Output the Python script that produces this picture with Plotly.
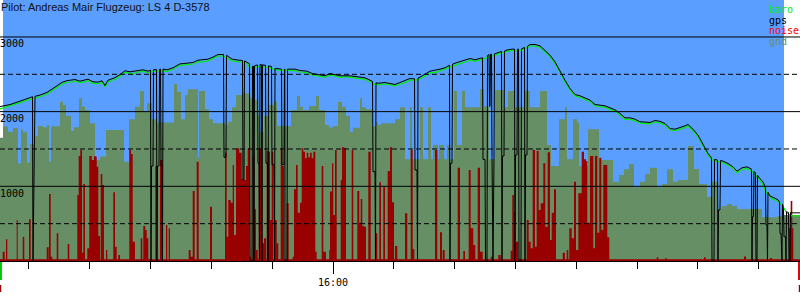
import numpy as np
import plotly.graph_objects as go

# ---------------- time base (logger fixes) ----------------
FIX_SECONDS = 9.868      # seconds per logger fix
FIRST_FIX_SEC = 314      # fix 0 = 15:05:14  (seconds after 15:00)
LAST_FIX = 800


def to_min(fix):
    """fix number -> minutes after 15:00"""
    return (FIRST_FIX_SEC + np.asarray(fix, dtype=float) * FIX_SECONDS) / 60.0


# ---------------- data ----------------
TITLE = "Pilot: Andreas Mair Flugzeug: LS 4 D-3578"

BARO_FIX = [0, 10, 20, 25, 30, 35, 40, 47, 53, 58, 62, 67, 72, 75, 80, 85, 88, 93, 98, 102,
            105, 108, 115, 120, 125, 130, 133, 138, 143, 148, 153, 160, 167, 173, 180, 187,
            193, 198, 203, 208, 213, 218, 223, 227, 232, 237, 242, 247, 250, 255, 260, 265,
            270, 275, 280, 285, 290, 295, 300, 307, 312, 317, 320, 325, 330, 335, 340, 345,
            350, 355, 360, 365, 370, 375, 380, 385, 390, 395, 400, 405, 410, 415, 420, 425,
            430, 435, 440, 445, 450, 455, 460, 465, 470, 475, 480, 485, 490, 495, 500, 505,
            510, 515, 520, 525, 530, 535, 540, 545, 550, 555, 560, 565, 570, 575, 580, 585,
            590, 595, 600, 605, 610, 615, 620, 625, 630, 635, 640, 645, 650, 655, 660, 665,
            670, 675, 680, 685, 688, 693, 698, 703, 708, 713, 718, 723, 728, 733, 737, 742,
            747, 752, 757, 762, 767, 772, 777, 782, 787, 792, 797, 800]
BARO_ALT = [2036, 2076, 2120, 2147, 2165, 2183, 2200, 2236, 2290, 2335, 2370, 2393, 2397, 2410,
            2388, 2401, 2415, 2379, 2375, 2393, 2335, 2401, 2433, 2477, 2527, 2513, 2504, 2531,
            2540, 2522, 2540, 2549, 2540, 2567, 2620, 2629, 2638, 2669, 2665, 2683, 2710, 2745,
            2745, 2719, 2683, 2669, 2665, 2647, 2585, 2589, 2611, 2594, 2589, 2558, 2558, 2549,
            2558, 2549, 2531, 2522, 2491, 2477, 2477, 2460, 2491, 2477, 2460, 2468, 2460, 2455,
            2437, 2433, 2401, 2366, 2361, 2370, 2361, 2344, 2370, 2388, 2424, 2415, 2442, 2486,
            2522, 2522, 2549, 2567, 2602, 2629, 2647, 2665, 2692, 2674, 2692, 2714, 2745, 2754,
            2781, 2799, 2817, 2817, 2817, 2844, 2879, 2879, 2861, 2803, 2736, 2647, 2513, 2401,
            2290, 2210, 2192, 2165, 2134, 2076, 2067, 2058, 2031, 2004, 1955, 1897, 1897, 1879,
            1845, 1835, 1835, 1861, 1850, 1821, 1754, 1745, 1763, 1790, 1808, 1745, 1665, 1540,
            1420, 1344, 1331, 1317, 1286, 1241, 1183, 1228, 1241, 1196, 1129, 1040, 906, 835,
            808, 750, 638, 603, 603, 603]

# GPS altitude: regular track fixes
GPS_TRACK = [(0, 2067), (10, 2095), (20, 2140), (30, 2185), (40, 2222), (47, 2258), (53, 2310),
             (58, 2355), (62, 2392), (67, 2415), (75, 2430), (80, 2408), (88, 2435), (93, 2400),
             (98, 2395), (102, 2413), (105, 2350), (108, 2420), (115, 2455), (120, 2497),
             (125, 2547), (130, 2533), (138, 2551), (143, 2560), (148, 2542), (155, 2562),
             (164, 2569), (167, 2560), (173, 2587), (180, 2640), (187, 2649), (193, 2658),
             (198, 2689), (208, 2703), (213, 2730), (218, 2765), (222, 2765), (228, 2739),
             (232, 2703), (238, 2690), (246, 2667), (256, 2620), (265, 2618), (270, 2609),
             (278, 2575), (290, 2569), (295, 2569), (300, 2551), (307, 2542), (312, 2511),
             (320, 2497), (325, 2480), (330, 2511), (340, 2480), (350, 2480), (360, 2457),
             (365, 2453), (370, 2421), (378, 2380), (385, 2390), (395, 2364), (400, 2390),
             (405, 2408), (410, 2444), (413, 2440), (420, 2462), (425, 2506), (430, 2542),
             (440, 2569), (445, 2587), (448, 2610), (455, 2649), (460, 2667), (465, 2685),
             (470, 2712), (475, 2694), (480, 2712), (497, 2785), (500, 2801), (507, 2825),
             (510, 2837), (512, 2837), (523, 2850), (530, 2899), (535, 2899), (540, 2881),
             (545, 2823), (550, 2756), (555, 2667), (560, 2533), (565, 2421), (570, 2310),
             (575, 2230), (580, 2212), (585, 2185), (590, 2154), (595, 2096), (600, 2087),
             (605, 2078), (610, 2051), (615, 2024), (620, 1975), (625, 1917), (630, 1917),
             (635, 1899), (640, 1865), (650, 1855), (655, 1881), (660, 1870), (665, 1841),
             (670, 1774), (675, 1765), (680, 1783), (685, 1810), (688, 1828), (693, 1765),
             (698, 1685), (703, 1560), (708, 1440), (723, 1337), (728, 1306), (733, 1261),
             (737, 1203), (742, 1248), (747, 1261), (760, 1100), (763, 1060), (770, 870),
             (775, 840), (778, 820), (792, 645), (800, 645)]

# GPS altitude: fixes around signal dropouts
GPS_DROPS = [(32.5, 2200), (33, 0), (34, 1085), (35, 2205),
             (150.5, 2555), (151, 0), (151.5, 1272), (153, 1272), (153.5, 2560),
             (156.5, 2562), (157, 0), (157.5, 1272), (159, 1272), (159.5, 2566),
             (160.5, 2569), (161, 1272), (162, 1272), (162.5, 0), (163, 2570),
             (223.5, 2765), (224, 1388), (226, 1388), (226.5, 2755),
             (242.5, 2685), (243, 1085), (244, 1085), (244.5, 2680),
             (249.5, 2640), (250, 0), (252, 0), (252.5, 2608),
             (253.5, 2610), (254, 0), (254.5, 2612),
             (257.5, 2625), (258, 1308), (259, 1308), (259.5, 0), (260, 2631),
             (261.5, 2628), (262, 0), (262.5, 2627),
             (265.5, 2620), (266, 1308), (267.5, 1308), (268, 0), (268.5, 2612),
             (271.5, 2605), (272, 1290), (274, 1290), (274.5, 0), (275, 2578),
             (281.5, 2569), (282, 1290), (284, 1290), (284.5, 2569),
             (284.8, 2569), (285, 0), (287, 0), (287.5, 2569),
             (372.5, 2404), (373, 1196), (375, 1196), (375.5, 0), (376, 2386),
             (414.5, 2440), (415, 1219), (417, 1219), (417.5, 0), (418, 2450),
             (449.5, 2620), (450, 0), (450.5, 1308), (452, 1308), (452.5, 2635),
             (482.5, 2722), (483, 1361), (485, 1361), (485.5, 0), (487, 0), (487.5, 2750),
             (489, 2765), (489.5, 2070), (490, 2070), (490.5, 2768), (491.5, 2770), (492, 1384),
             (493, 0), (494, 1384), (494.5, 2774),
             (501.5, 2805), (502, 0), (502.5, 1406), (504, 1406), (504.5, 2812),
             (514.5, 2837), (515, 0), (515.5, 1420), (517, 1420), (517.5, 2837),
             (518.5, 2837), (519, 0), (521, 0), (521.5, 2840),
             (524.5, 2860), (525, 0), (525.5, 1420), (527, 1420), (527.5, 2875),
             (711.5, 1380), (712, 0), (714, 0), (714.5, 1360), (717.5, 1352), (718, 0),
             (718.5, 683), (720, 683), (720.5, 1345),
             (751.5, 1230), (752, 0), (752.5, 594), (753.5, 594), (754, 1200), (755.5, 1180),
             (756, 0), (757, 0), (757.5, 1150),
             (765.5, 980), (766, 482), (767, 482), (767.5, 0), (768, 920),
             (779.5, 790), (780, 370), (781, 370), (782, 0), (782.5, 760), (783.5, 700),
             (784, 326), (785.5, 326), (786, 0), (786.5, 660), (788.5, 650), (789, 0), (790, 0),
             (790.5, 650)]

# ground elevation: (fix where a new value starts, elevation)
GND_STEPS = [(0, 1650), (3, 1800), (8, 1730), (13, 1780), (18, 1310), (21, 1760), (23, 1725),
             (27, 1320), (30, 1567), (34, 1670), (38, 1808), (43, 1790), (47, 1821), (49, 1330),
             (51, 1805), (60, 2134), (63, 2089), (66, 1942), (71, 1741), (74, 1790), (79, 2178),
             (82, 2067), (85, 2022), (90, 1844), (95, 1353), (100, 1400), (106, 1754),
             (124, 1330), (129, 1897), (135, 2067), (140, 2277), (144, 2000), (147, 2111),
             (152, 1897), (157, 1853), (174, 2370), (177, 2268), (181, 1897), (185, 2223),
             (188, 2299), (198, 1375), (199, 2277), (205, 2031), (209, 1897), (213, 1844),
             (225, 1821), (228, 1866), (232, 2058), (236, 2223), (242, 2370), (243, 2245),
             (249, 2178), (253, 2160), (257, 1960), (260, 1732), (264, 1942), (269, 2089),
             (274, 2134), (277, 1808), (291, 2022), (297, 2210), (300, 2067), (303, 2022),
             (309, 2076), (316, 2210), (319, 2022), (325, 1821), (329, 1786), (333, 1808),
             (338, 2134), (342, 2067), (346, 1942), (350, 1732), (353, 1785), (360, 2178),
             (362, 2058), (366, 2031), (372, 1808), (376, 1866), (378, 1821), (381, 1844),
             (395, 1897), (400, 2058), (405, 1361), (410, 2058), (412, 1361), (420, 2058),
             (423, 1361), (428, 2058), (431, 1361), (433, 1553), (438, 1361), (439, 1553),
             (444, 1361), (447, 1553), (450, 1361), (454, 2277), (457, 1553), (462, 2277),
             (465, 2058), (480, 2299), (484, 2070), (489, 1361), (495, 2290), (504, 2058),
             (508, 2277), (515, 2058), (524, 2277), (530, 2058), (540, 2277), (547, 1553),
             (551, 1272), (559, 1897), (565, 2058), (567, 1361), (573, 1897), (577, 1853),
             (579, 1272), (588, 1763), (599, 1353), (613, 1062), (619, 1152), (624, 1228),
             (629, 1299), (634, 987), (640, 1062), (645, 1165), (650, 1250), (657, 987),
             (662, 1031), (667, 1228), (673, 1062), (678, 1085), (688, 1540), (694, 1232),
             (699, 1031), (707, 862), (712, 1062), (717, 696), (722, 736), (727, 763),
             (732, 736), (737, 696), (762, 585), (778, 603), (784, 616)]

# vario noise: baseline and bursts (start fix, end fix, level)
NOISE_BASE = 22
NOISE_BURSTS = [
    (2.7, 4.7, 125), (6, 7.3, 290), (16.7, 17.7, 550), (22.7, 24.3, 326), (29, 30.7, 558),
    (46.7, 48.7, 183), (49, 50.7, 897), (50.7, 52.3, 58), (56.7, 58.3, 370), (67.7, 69.3, 228),
    (77.3, 78.7, 884), (78.7, 80.3, 1406), (80.3, 82, 1487), (82, 83.3, 112), (83.3, 85, 1031),
    (87.3, 89.3, 170), (89.3, 91.7, 1406), (91.7, 94, 1353), (94, 95.3, 1406), (95.3, 96.7, 1397),
    (96.7, 98.3, 1263), (98.3, 100, 335), (100.7, 102.3, 1165), (102.3, 104, 1018),
    (106, 107.3, 147), (113.3, 115, 920), (115, 116.7, 192), (118.3, 120, 80),
    (129.3, 131, 1487), (131, 132.7, 1433), (132.7, 135, 259), (140.7, 142.3, 304),
    (143.3, 145.3, 469), (145.3, 146.7, 415), (146.7, 148.3, 304), (155.3, 156.7, 1272),
    (160, 162.7, 1353), (166, 167.3, 482), (168.7, 170, 437), (188.7, 190.7, 147),
    (190.7, 192.7, 58), (192.7, 194.7, 937), (196.7, 198.7, 1330), (210, 212, 728),
    (225, 226.7, 1451), (226.7, 228.3, 326), (228.3, 230.7, 817), (230.7, 232.7, 781),
    (232.7, 234, 1286), (234, 236, 348), (236, 237.7, 1509), (237.7, 239.3, 1509),
    (239.3, 241.7, 1451), (241.7, 243.3, 1094), (243.3, 246, 1085), (246, 247.7, 1272),
    (247.7, 249.3, 1509), (249.3, 251, 58), (252.7, 254.3, 1397), (254.3, 256, 692),
    (256, 257.7, 147), (258.7, 260.7, 1509), (260.7, 262, 1487), (262, 264, 237),
    (264, 266, 304), (266.7, 268.3, 1478), (268.3, 270, 1464), (270, 271.7, 549),
    (271.7, 273.3, 1464), (275, 276.7, 549), (276.7, 278.3, 237), (280.7, 282.3, 1509),
    (282.3, 284, 1272), (286.7, 288.7, 772), (292.7, 294, 58), (294, 296, 960),
    (296, 297.7, 1286), (297.7, 300, 647), (300, 301.7, 781), (301.7, 303.3, 1509),
    (303.3, 305, 1464), (305, 306.7, 1375), (306.7, 308.3, 1451), (308.3, 310, 1388),
    (310, 311.7, 1451), (311.7, 313.3, 1375), (313.3, 315.3, 1464), (315.3, 316.7, 125),
    (321.7, 323.3, 1272), (323.3, 326, 125), (329.3, 330, 147), (330, 332, 929),
    (332, 333.3, 1308), (333.3, 335, 616), (335, 336.7, 1487), (340.7, 342, 1085),
    (342, 344.3, 1522), (344.3, 346, 1509), (351.7, 353.3, 1487), (357.3, 359.3, 937),
    (359.3, 360.7, 513), (360.7, 362.3, 830), (362.3, 364, 469), (364, 366, 460),
    (368.3, 370.7, 1464), (375.3, 377.3, 370), (379.3, 381, 1053), (383.3, 385, 995),
    (387.7, 390, 1205), (390, 392, 1522), (392, 394, 786), (395, 397.3, 201),
    (405, 407.3, 638), (410.7, 412.7, 1487), (412.7, 414.3, 156), (435, 437.3, 1487),
    (440, 442, 384), (442.7, 444.7, 147), (457.7, 460, 1250), (463.3, 465, 134),
    (468.7, 470.7, 1219), (470.7, 473.3, 437), (473.3, 475.3, 214), (477.7, 480, 1250),
    (480, 482.7, 125), (490.7, 492.3, 58), (498.3, 500.7, 80), (510.7, 512.3, 138),
    (512.3, 514, 884), (514, 515.3, 661), (516, 518.3, 259), (526.7, 528.7, 549),
    (528.7, 530.7, 259), (530.7, 532.7, 170), (532.7, 535, 1487), (535, 536.7, 192),
    (536.7, 538.7, 1473), (538.7, 540.7, 683), (540.7, 543.3, 772), (543.3, 545.3, 1308),
    (545.3, 547.7, 460), (547.7, 550, 1455), (550, 551.7, 281), (551.7, 554, 647),
    (554, 556, 960), (562.7, 565, 112), (566.7, 568.3, 147), (569.3, 571.7, 437),
    (571.7, 574, 304), (574, 576, 1062), (576, 578.3, 147), (578.3, 581.7, 906),
    (581.7, 584, 1464), (584, 586, 1361), (586, 587.3, 1339), (587.3, 590, 513),
    (590, 591.7, 1406), (591.7, 593.3, 1406), (593.3, 595, 170), (595, 597.3, 1406),
    (597.3, 599.3, 379), (599.3, 601.3, 1384), (601.3, 603.3, 415), (603.3, 605.3, 1286),
    (605.3, 607.3, 1286), (607.3, 609.3, 317), (656.7, 658.3, 50), (665, 666.7, 36),
    (704, 705.7, 50), (744, 746, 60), (770, 772, 40), (789, 790.7, 437), (790.7, 792.3, 803),
    (792.3, 793.3, 437)]

Y_SOLID = [1000, 2000, 3000]
Y_DASHED = [500, 1500, 2500]
X_MINOR_MIN = list(range(10, 140, 10))      # every 10 minutes after 15:00
X_MAJOR_MIN = [60, 120]
X_MAJOR_TEXT = ["16:00", ""]
SKY_FIX = (3, 784)

LEGEND = [("baro", "#00ee00"), ("gps", "#000000"), ("noise", "#ff0000"), ("gnd", "#668f66")]

SKY = "#5a9eff"
GND_COLOR = "#668f66"
NOISE_COLOR = "#990000"
BARO_COLOR = "#00ee00"
GPS_COLOR = "#000000"
Y_MAX = 3495

# ---------------- build series ----------------
gnd_fix = [f for f, _ in GND_STEPS] + [LAST_FIX]
gnd_alt = [a for _, a in GND_STEPS] + [GND_STEPS[-1][1]]

nz_fix, nz_val = [0], [NOISE_BASE]
for f0, f1, v in NOISE_BURSTS:
    nz_fix += [f0, f1]
    nz_val += [v, NOISE_BASE]
nz_fix.append(LAST_FIX)
nz_val.append(NOISE_BASE)

gps = sorted(GPS_TRACK + GPS_DROPS, key=lambda p: p[0])
gps_fix = [f for f, _ in gps]
gps_alt = [a for _, a in gps]

fig = go.Figure()
fig.add_trace(go.Scatter(x=to_min(gnd_fix), y=gnd_alt, mode="lines", line_shape="hv",
                         line=dict(width=0, color=GND_COLOR), fill="tozeroy",
                         fillcolor=GND_COLOR, name="gnd", hoverinfo="skip"))
fig.add_trace(go.Scatter(x=to_min(nz_fix), y=nz_val, mode="lines", line_shape="hv",
                         line=dict(width=0, color=NOISE_COLOR), fill="tozeroy",
                         fillcolor=NOISE_COLOR, name="noise", hoverinfo="skip"))
fig.add_trace(go.Scatter(x=to_min(BARO_FIX), y=BARO_ALT, mode="lines",
                         line=dict(width=1.2, color=BARO_COLOR), name="baro"))
fig.add_trace(go.Scatter(x=to_min(gps_fix), y=gps_alt, mode="lines",
                         line=dict(width=1, color=GPS_COLOR), name="gps"))

shapes = [dict(type="rect", xref="x", yref="paper", x0=float(to_min(SKY_FIX[0])),
               x1=float(to_min(SKY_FIX[1])), y0=0, y1=1, fillcolor=SKY,
               line=dict(width=0), layer="below")]
for v in Y_SOLID:
    shapes.append(dict(type="line", xref="paper", yref="y", x0=0, x1=1, y0=v, y1=v,
                       line=dict(color="black", width=1), layer="above"))
for v in Y_DASHED:
    shapes.append(dict(type="line", xref="paper", yref="y", x0=0, x1=1, y0=v, y1=v,
                       line=dict(color="black", width=1, dash="5px,3px"), layer="above"))
# start / end markers below the axis
shapes += [
    dict(type="rect", xref="paper", yref="paper", x0=0, x1=0.0025, y0=-0.0728, y1=-0.004,
         fillcolor="#00cc00", line=dict(width=0)),
    dict(type="rect", xref="paper", yref="paper", x0=0, x1=0.0015, y0=-0.119, y1=-0.092,
         fillcolor=NOISE_COLOR, line=dict(width=0)),
    dict(type="rect", xref="paper", yref="paper", x0=0.9975, x1=1, y0=-0.0728, y1=-0.004,
         fillcolor="#ee0000", line=dict(width=0)),
    dict(type="rect", xref="paper", yref="paper", x0=0.9985, x1=1, y0=-0.119, y1=-0.092,
         fillcolor=NOISE_COLOR, line=dict(width=0)),
]

annotations = [dict(text=TITLE, xref="paper", yref="paper", x=0, y=1, xanchor="left",
                    yanchor="top", showarrow=False, xshift=-1, yshift=1,
                    font=dict(family="Liberation Sans", size=11, color="#111111"))]
for i, (name, col) in enumerate(LEGEND):
    annotations.append(dict(text=name, xref="paper", yref="paper", x=769 / 800,
                            y=1 - (2 + i * 10.6) / 261, xanchor="left", yanchor="top",
                            showarrow=False, xshift=-2,
                            font=dict(family="DejaVu Sans Mono", size=10, color=col)))

fig.update_layout(
    width=800, height=300, margin=dict(l=0, r=0, t=0, b=39),
    paper_bgcolor="white", plot_bgcolor="white", showlegend=False,
    shapes=shapes, annotations=annotations,
    xaxis=dict(range=[float(to_min(0)), float(to_min(LAST_FIX))], showgrid=False,
               zeroline=False, showline=True, linecolor="black", linewidth=1,
               tickmode="array", tickvals=X_MAJOR_MIN, ticktext=X_MAJOR_TEXT,
               ticks="outside", ticklen=12, tickcolor="black", tickwidth=1,
               tickfont=dict(family="DejaVu Sans Mono", size=10, color="black"),
               minor=dict(tickmode="array", tickvals=X_MINOR_MIN, ticks="outside",
                          ticklen=7, tickcolor="black", tickwidth=1, showgrid=False)),
    yaxis=dict(range=[0, Y_MAX], showgrid=False, zeroline=False, showline=False,
               tickmode="array", tickvals=Y_SOLID, ticks="",
               ticklabelposition="inside bottom", ticklabelstandoff=-3,
               tickfont=dict(family="DejaVu Sans Mono", size=10, color="black")),
)

fig.write_html("out.html")
